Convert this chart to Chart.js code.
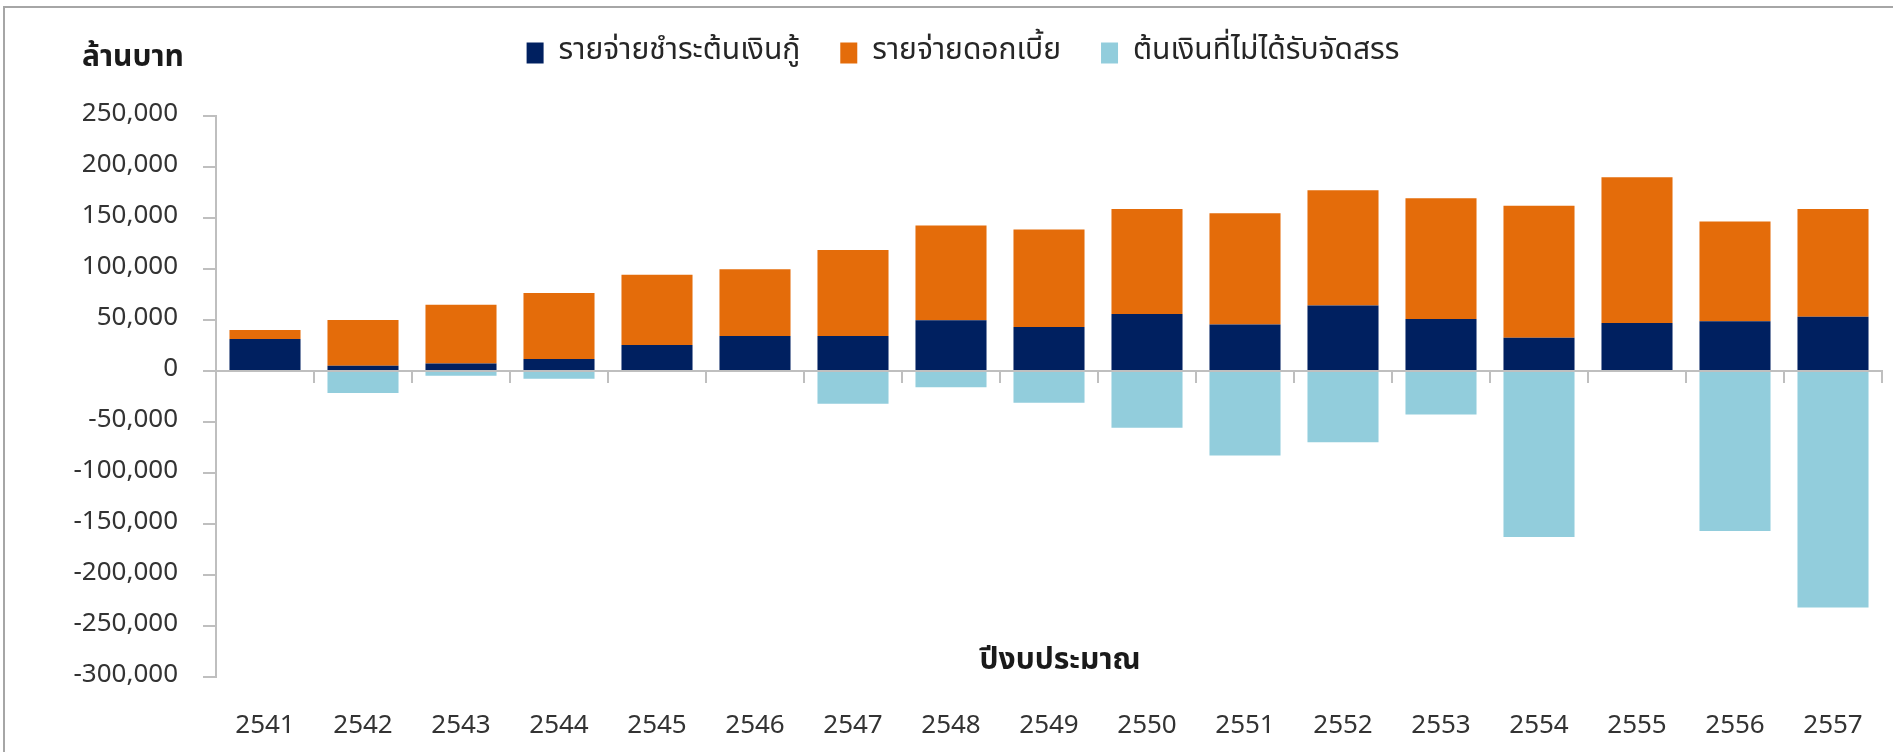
<!DOCTYPE html>
<html>
<head>
<meta charset="utf-8">
<script src="https://cdn.jsdelivr.net/npm/chart.js@4.4.1/dist/chart.umd.min.js"></script>
<style>
  html, body { margin: 0; padding: 0; background: #fff; }
  #wrap { position: relative; width: 1893px; height: 752px; overflow: hidden; }
  #frame { position: absolute; left: 3px; top: 6px; right: -10px; bottom: -10px;
           border-left: 2px solid #a6a6a6; border-top: 2px solid #a6a6a6; }
  canvas { position: absolute; left: 0; top: 0; }
</style>
</head>
<body>
<div id="wrap">
  <div id="frame"></div>
  <canvas id="chart" width="1893" height="752"></canvas>
</div>
<script>
// ปีงบประมาณ (fiscal years)
const years = ['2541', '2542', '2543', '2544', '2545', '2546', '2547', '2548', '2549',
               '2550', '2551', '2552', '2553', '2554', '2555', '2556', '2557'];

// ล้านบาท
const principalPaid = [31200, 5000, 7200, 11800, 25300, 34200, 34200, 49700, 43100,
                       55900, 45500, 64200, 51000, 32600, 47000, 48700, 53000];
const interestPaid = [8900, 45000, 57600, 64600, 68900, 65600, 84400, 92900, 95500,
                      102800, 109200, 113000, 118300, 129400, 143000, 97800, 105700];
const principalUnallocated = [0, -21600, -4800, -7800, 0, 0, -32300, -16000, -31200,
                              -55800, -83000, -70000, -42800, -163000, 0, -157000, -232000];

const seriesNames = ['รายจ่ายชำระต้นเงินกู้', 'รายจ่ายดอกเบี้ย', 'ต้นเงินที่ไม่ได้รับจัดสรร'];
const seriesColors = ['#002060', '#E46C0A', '#92CDDC'];
const yUnit = 'ล้านบาท';
const xTitle = 'ปีงบประมาณ';

const FONT = 'Tahoma, "Noto Sans Thai", "Noto Sans", sans-serif';
const axisGray = '#bfbfbf';

// extra room under the legend, and nudge it a bit right like the original
const legendMargin = {
  id: 'legendMargin',
  beforeInit(chart) {
    const fit = chart.legend.fit;
    chart.legend.fit = function () {
      fit.call(this);
      this.height += 38;
    };
  },
  afterLayout(chart) {
    chart.legend.left += 17;
    chart.legend.right += 17;
  }
};

// the two axis titles sit inside the plot like in the original
const axisTitles = {
  id: 'axisTitles',
  afterDraw(chart) {
    const ctx = chart.ctx;
    const area = chart.chartArea;
    ctx.save();
    ctx.fillStyle = '#1a1a1a';
    ctx.font = 'bold 30px ' + FONT;
    ctx.textBaseline = 'middle';
    ctx.textAlign = 'left';
    ctx.fillText(yUnit, 82, 60);
    ctx.textAlign = 'center';
    ctx.fillText(xTitle, (area.left + area.right) / 2 + 11, area.bottom - 14);
    ctx.restore();
  }
};

const ds = (i, values) => ({
  label: seriesNames[i],
  data: values,
  backgroundColor: seriesColors[i],
  borderWidth: 0,
  stack: 'budget',
  categoryPercentage: 1,
  barPercentage: 0.725
});

new Chart(document.getElementById('chart'), {
  type: 'bar',
  data: {
    labels: years,
    datasets: [ds(0, principalPaid), ds(1, interestPaid), ds(2, principalUnallocated)]
  },
  options: {
    responsive: false,
    animation: false,
    layout: { padding: { left: 10, right: 11, top: -2, bottom: -18 } },
    plugins: {
      legend: {
        position: 'top',
        labels: {
          boxWidth: 17,
          boxHeight: 21,
          padding: 40,
          color: '#262626',
          font: { family: FONT, size: 30 }
        }
      },
      tooltip: { enabled: false }
    },
    scales: {
      x: {
        stacked: true,
        grid: { display: false },
        border: { display: false },
        ticks: { color: '#333', padding: 27, font: { family: FONT, size: 26 } }
      },
      x2: {
        type: 'category',
        labels: years,
        position: { y: 0 },
        offset: true,
        grid: { offset: true, drawOnChartArea: false, tickLength: 11, color: axisGray, lineWidth: 2 },
        border: { color: axisGray, width: 2 },
        ticks: { display: false }
      },
      y: {
        stacked: true,
        min: -300000,
        max: 250000,
        afterFit(scale) { scale.width = 206; },
        grid: { drawOnChartArea: false, tickLength: 13, color: axisGray, lineWidth: 2 },
        border: { color: axisGray, width: 2 },
        ticks: {
          stepSize: 50000,
          padding: 25,
          color: '#333',
          font: { family: FONT, size: 26 },
          callback: v => v.toLocaleString('en-US')
        }
      }
    }
  },
  plugins: [legendMargin, axisTitles]
});
</script>
</body>
</html>
